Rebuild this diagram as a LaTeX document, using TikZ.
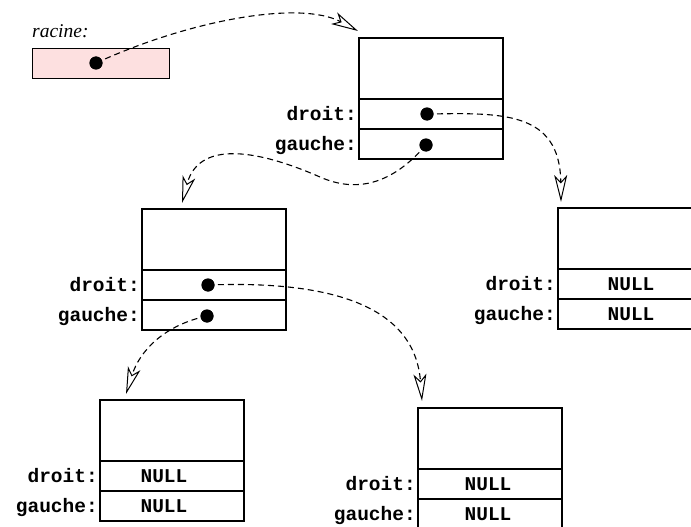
\documentclass[tikz,border=0pt]{standalone}
\usepackage{fontspec}
\newfontfamily\codefont{Liberation Mono}
\newfontfamily\serifit{Liberation Serif}
\usetikzlibrary{arrows.meta,calc}
\definecolor{rootpink}{RGB}{253,224,224}

\tikzset{
  cellbox/.style={draw, line width=1.2pt, minimum width=144pt, minimum height=121pt,
    anchor=north west, inner sep=0pt, outer sep=0pt},
  sepline/.style={line width=1.2pt},
  field/.style={font=\codefont\bfseries\fontsize{19.5}{20}\selectfont, inner sep=0pt, anchor=base east},
  nullval/.style={font=\codefont\bfseries\fontsize{19.5}{20}\selectfont, inner sep=0pt, anchor=base},
  ptrdot/.style={circle, fill=black, draw=none, inner sep=0pt, minimum size=13pt},
  ptr/.style={line width=1.1pt, dash pattern=on 6pt off 4pt,
    -{Stealth[open, length=27pt, width=13pt, inset=7pt, line width=1pt]}},
}

% one tree cell: name, top-left x, top-left y
\newcommand\cellnode[3]{%
  \node[cellbox] (#1) at (#2,#3) {};
  \draw[sepline] ($(#1.north west)+(0,61)$) -- ++(144,0);
  \draw[sepline] ($(#1.north west)+(0,91)$) -- ++(144,0);
  \node[field] (#1-dl) at ($(#1.north west)+(-2,82)$) {droit:};
  \node[field] (#1-gl) at ($(#1.north west)+(-2,112)$) {gauche:};
}
% NULL in both pointer fields: name, x offset of the text centre
\newcommand\nullfields[2]{%
  \node[nullval] (#1-dn) at ($(#1.north west)+(#2,82)$) {NULL};
  \node[nullval] (#1-gn) at ($(#1.north west)+(#2,112)$) {NULL};
}

\begin{document}
\begin{tikzpicture}[x=1pt,y=-1pt]
  \useasboundingbox (0,0) rectangle (691,527);
  \clip (0,0) rectangle (691,527);

  % root variable
  \node[anchor=base west, inner sep=0pt, font=\serifit\itshape\fontsize{19.5}{20}\selectfont]
    (raclbl) at (32,38) {racine:};
  \node[draw, line width=1.2pt, fill=rootpink, anchor=north west, inner sep=0pt,
    minimum width=137pt, minimum height=30pt] (racbox) at (32,48) {};
  \node[ptrdot] (racdot) at (96,63) {};

  % cells
  \cellnode{root}{359}{38}
  \node[ptrdot] (rootd) at (427,114) {};
  \node[ptrdot] (rootg) at (426,145) {};

  \cellnode{mid}{142}{209}
  \node[ptrdot] (midd) at (208,285) {};
  \node[ptrdot] (midg) at (207,316) {};

  \cellnode{right}{558}{208}
  \nullfields{right}{73}

  \cellnode{botl}{100}{400}
  \nullfields{botl}{64}

  \cellnode{botm}{418}{408}
  \nullfields{botm}{70}

  % arrow ends just above each cell
  \coordinate (rootin) at (358,31);
  \coordinate (rightin) at (561,202);
  \coordinate (midin) at (182,203);
  \coordinate (botlin) at (126,394);
  \coordinate (botmin) at (422,401);
  \coordinate (rootbend) at (320,177);

  % pointers
  \draw[ptr] (racdot.center) .. controls (190,20) and (300,0) .. (rootin);
  \draw[ptr] (rootd.center) .. controls (500,113) and (560,110) .. (rightin);
  \draw[ptr] (rootg.center) .. controls (400,175) and (365,197) .. (rootbend)
                            .. controls (270,155) and (200,135) .. (midin);
  \draw[ptr] (midd.center) .. controls (340,280) and (415,310) .. (botmin);
  \draw[ptr] (midg.center) .. controls (165,325) and (140,350) .. (botlin);

  % dots on top of the pointer lines
  \foreach \d in {racdot,rootd,rootg,midd,midg}
    \fill (\d) circle (6.5pt);
\end{tikzpicture}
\end{document}
